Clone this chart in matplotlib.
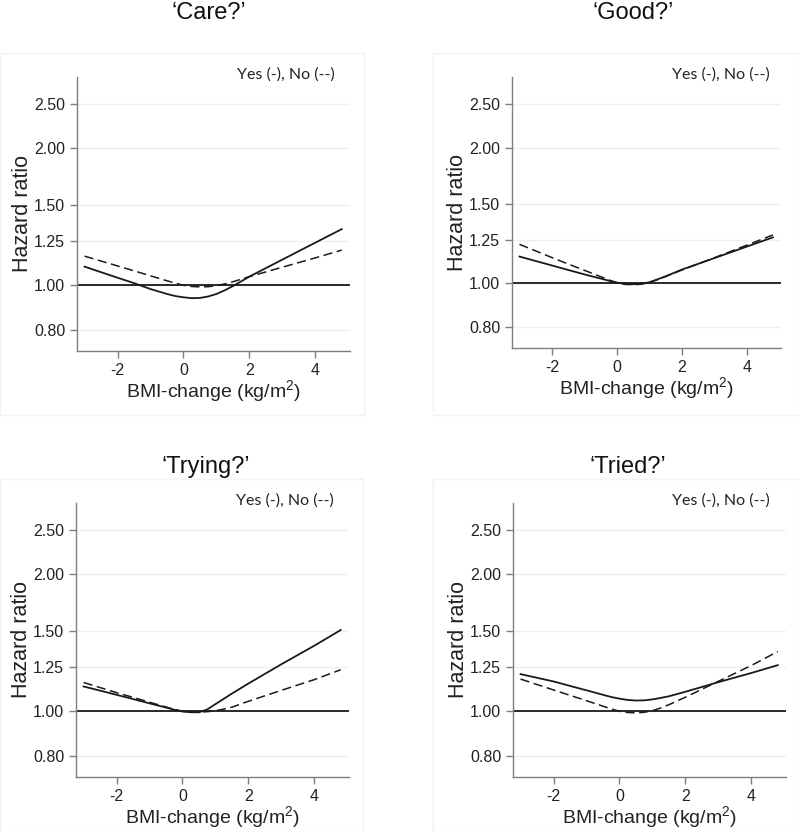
import matplotlib
matplotlib.use("Agg")
import matplotlib.pyplot as plt
from matplotlib.patches import Rectangle
from matplotlib.ticker import FixedLocator, NullLocator

plt.rcParams["mathtext.fontset"] = "custom"
plt.rcParams["mathtext.rm"] = "Liberation Sans"
plt.rcParams["mathtext.it"] = "Liberation Sans:italic"

titles = ["\u2018Care?\u2019", "\u2018Good?\u2019", "\u2018Trying?\u2019", "\u2018Tried?\u2019"]
legend_text = "Yes (-), No (--)"
ytick_values = [0.80, 1.00, 1.25, 1.50, 2.00, 2.50]
ytick_labels = ["0.80", "1.00", "1.25", "1.50", "2.00", "2.50"]
xtick_values = [-2, 0, 2, 4]
xtick_labels = ["-2", "0", "2", "4"]

bmi_change = [-3.0, -2.0, -1.5, -1.0, -0.5, -0.25, 0.0, 0.25, 0.5, 0.75, 1.0, 1.25, 1.5, 2.0, 3.0, 4.0, 4.8]

care_yes = [1.10, 1.04, 1.012, 0.982, 0.958, 0.948, 0.942, 0.938, 0.939, 0.946, 0.958, 0.976, 0.997, 1.046, 1.14, 1.242, 1.33]
care_no = [1.16, 1.104, 1.077, 1.05, 1.024, 1.012, 1.001, 0.995, 0.993, 0.994, 0.999, 1.008, 1.019, 1.046, 1.097, 1.15, 1.196]

good_yes = [1.146, 1.095, 1.07, 1.046, 1.024, 1.013, 1.003, 0.997, 0.995, 0.997, 1.005, 1.02, 1.036, 1.072, 1.137, 1.206, 1.264]
good_no = [1.22, 1.14, 1.103, 1.068, 1.034, 1.017, 1.002, 0.994, 0.992, 0.995, 1.004, 1.018, 1.035, 1.07, 1.139, 1.215, 1.28]

trying_yes = [1.135, 1.088, 1.065, 1.042, 1.02, 1.009, 1.0, 0.996, 0.996, 1.01, 1.038, 1.066, 1.095, 1.152, 1.27, 1.395, 1.51]
trying_no = [1.158, 1.10, 1.074, 1.048, 1.023, 1.011, 1.001, 0.997, 0.997, 0.999, 1.004, 1.012, 1.022, 1.053, 1.113, 1.175, 1.235]

tried_yes = [1.208, 1.164, 1.138, 1.113, 1.088, 1.076, 1.067, 1.06, 1.057, 1.058, 1.063, 1.071, 1.08, 1.105, 1.16, 1.215, 1.264]
tried_no = [1.178, 1.115, 1.085, 1.056, 1.027, 1.013, 1.001, 0.995, 0.993, 0.996, 1.004, 1.018, 1.035, 1.075, 1.165, 1.262, 1.354]

series = [(care_yes, care_no), (good_yes, good_no), (trying_yes, trying_no), (tried_yes, tried_no)]

W, H = 800, 832
fig = plt.figure(figsize=(W / 100, H / 100), dpi=100)

# axes boxes in pixels: left, right, top, bottom
boxes = [(77, 350, 77, 351), (512, 781, 77, 348), (76, 349, 503, 777), (513, 786, 503, 777)]
frames = [(0, 364, 53, 415), (433, 800, 53, 415), (0, 363, 479, 832), (433, 800, 479, 832)]
title_y = [13, 13, 467, 467]
title_x = [209, 633, 206, 628]
legend_x = [0.945, 0.96, 0.945, 0.94]

for (l, r, t, b) in frames:
    fig.add_artist(Rectangle((l / W, 1 - b / H), (r - l) / W, (b - t) / H,
                             transform=fig.transFigure, fill=False,
                             edgecolor="#f2f2f2", linewidth=1.0))

for i, ((l, r, t, b), (yes, no)) in enumerate(zip(boxes, series)):
    ax = fig.add_axes([l / W, 1 - b / H, (r - l) / W, (b - t) / H])
    ax.set_yscale("log")
    ax.set_ylim(0.718, 2.87)
    ax.set_xlim(-3.23, 5.05)
    for yv in ytick_values:
        ax.axhline(yv, color="#eaf1f1", linewidth=1.0, zorder=0)
    ax.axhline(1.0, color="#1a1a1a", linewidth=1.3, zorder=2)
    ax.plot(bmi_change, yes, color="#1a1a1a", linewidth=1.3, zorder=3)
    ax.plot(bmi_change, no, color="#1a1a1a", linewidth=1.1, linestyle=(0, (6, 3)), zorder=3)

    ax.yaxis.set_major_locator(FixedLocator(ytick_values))
    ax.yaxis.set_minor_locator(NullLocator())
    ax.set_yticklabels(ytick_labels)
    ax.set_xticks(xtick_values)
    ax.set_xticklabels(xtick_labels)
    for s in ["top", "right"]:
        ax.spines[s].set_visible(False)
    for s in ["left", "bottom"]:
        ax.spines[s].set_color("#7f7f7f")
        ax.spines[s].set_linewidth(1.0)
    ax.tick_params(axis="both", direction="out", length=5, width=1.0, color="#7f7f7f",
                   labelsize=11.5, labelcolor="#222222")
    for lab in ax.get_xticklabels() + ax.get_yticklabels():
        lab.set_fontfamily("Liberation Sans")
    ax.set_ylabel("Hazard ratio", fontsize=15.5, family="Liberation Sans", color="#222222", labelpad=1)
    ax.set_xlabel("BMI-change (kg/m$\\mathregular{^2}$)", fontsize=14, family="Liberation Sans",
                  color="#222222", labelpad=0)
    ax.text(legend_x[i], 1.008, legend_text, transform=ax.transAxes, ha="right", va="center",
            fontsize=11.5, family="Lato", color="#222222")

    fig.text(title_x[i] / W, 1 - title_y[i] / H, titles[i], ha="center", va="center",
             fontsize=17, family="Liberation Sans", color="#111111")

fig.savefig("out.png", dpi=100)
